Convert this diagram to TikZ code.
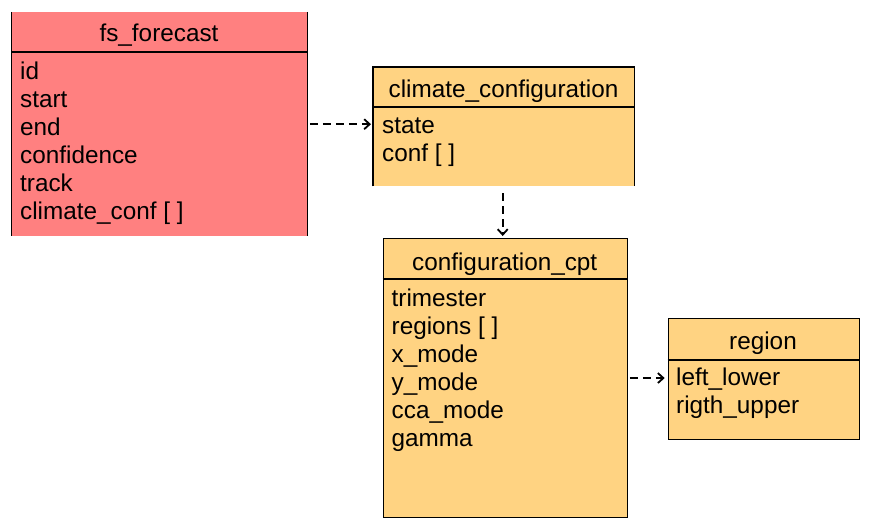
\documentclass[tikz,border=0pt]{standalone}
\usepackage{fontspec}
\setmainfont{Liberation Sans}
\usetikzlibrary{arrows.meta}
\definecolor{fsred}{HTML}{FF8080}
\definecolor{cfgorange}{HTML}{FFD382}
\tikzset{
  classbox/.style={rectangle, inner sep=0pt, anchor=north west},
  edge/.style={draw=black, line width=1.1pt},
  txt/.style={inner sep=0pt, font=\fontsize{24.3}{28}\selectfont},
  title/.style={txt, anchor=base},
  attr/.style={txt, anchor=base west},
  dep/.style={line width=1.8pt, dash pattern=on 8pt off 5pt, -{Straight Barb[length=5.5pt,width=10pt,line width=1.8pt]}}
}
\begin{document}
\begin{tikzpicture}[x=1pt,y=-1pt]
\useasboundingbox (0,0) rectangle (870,527);
% fs_forecast
\node[classbox, fill=fsred, minimum width=295pt, minimum height=224pt] (fs) at (11.5,12) {};
\draw[edge] (fs.north west) -- (fs.south west);
\draw[edge, line width=0.6pt] (fs.north east) -- (fs.south east);
\draw[edge] (fs.west |- 0,52) coordinate (fsd1) -- (fs.east |- 0,52) coordinate (fsd2);
\node[title] (fst) at (159,42) {fs\_forecast};
\node[attr] (fs1) at (20,79) {id};
\node[attr] (fs2) at (20,107) {start};
\node[attr] (fs3) at (20,135) {end};
\node[attr] (fs4) at (20,163) {confidence};
\node[attr] (fs5) at (20,191) {track};
\node[attr] (fs6) at (20,219) {climate\_conf [ ]};
% climate_configuration
\node[classbox, fill=cfgorange, minimum width=261pt, minimum height=119pt] (cc) at (373,67) {};
\draw[edge] (cc.south west) -- (cc.north west) -- (cc.north east) -- (cc.south east);
\draw[edge] (cc.west |- 0,107) -- (cc.east |- 0,107);
\node[title] (cct) at (503.5,97) {climate\_configuration};
\node[attr] (cc1) at (382,133) {state};
\node[attr] (cc2) at (382,161) {conf [ ]};
% configuration_cpt
\node[classbox, fill=cfgorange, draw=black, line width=1.1pt, minimum width=244pt, minimum height=279pt] (cpt) at (382.7,238) {};
\draw[edge] (cpt.west |- 0,279) -- (cpt.east |- 0,279);
\node[title] (cptt) at (504.7,270) {configuration\_cpt};
\node[attr] (cp1) at (391.5,306) {trimester};
\node[attr] (cp2) at (391.5,334) {regions [ ]};
\node[attr] (cp3) at (391.5,362) {x\_mode};
\node[attr] (cp4) at (391.5,390) {y\_mode};
\node[attr] (cp5) at (391.5,418) {cca\_mode};
\node[attr] (cp6) at (391.5,446) {gamma};
% region
\node[classbox, fill=cfgorange, draw=black, line width=1.1pt, minimum width=191pt, minimum height=120.5pt] (reg) at (667.7,318) {};
\draw[edge] (reg.west |- 0,360) -- (reg.east |- 0,360);
\node[title] (regt) at (763,349) {region};
\node[attr] (rg1) at (676,385) {left\_lower};
\node[attr] (rg2) at (676,413) {rigth\_upper};
% dependencies
\draw[dep, shorten <=3pt, shorten >=2pt] (fs.east) -- (cc.west |- fs.east);
\draw[dep, shorten <=7pt, shorten >=2pt] (cc.south -| 502.7,0) -- (cpt.north -| 502.7,0);
\draw[dep, shorten <=2pt, shorten >=3pt] (cpt.east) -- (reg.west |- cpt.east);
\end{tikzpicture}
\end{document}
